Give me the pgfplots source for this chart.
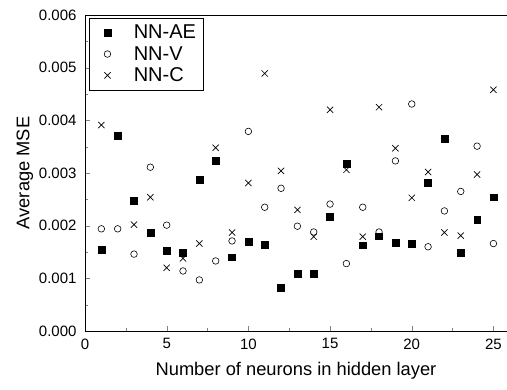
\documentclass[border=0pt]{standalone}
\usepackage{pgfplots}
\pgfplotsset{compat=1.18}
\usepackage{fontspec}
\setmainfont{Liberation Sans}
\newcommand{\lf}{\fontsize{20}{22}\selectfont}
\begin{document}
\begin{tikzpicture}
\begin{axis}[
  scale only axis, width=422pt, height=316pt,
  xmin=0, xmax=25.83, ymin=0, ymax=0.006,
  xtick={0,5,10,15,20,25}, ytick={0,0.001,0.002,0.003,0.004,0.005,0.006},
  minor x tick num=1, minor y tick num=1,
  xtick pos=bottom, ytick pos=left,
  tick align=inside,
  major tick length=5pt, minor tick length=3pt,
  scaled y ticks=false,
  yticklabel style={/pgf/number format/fixed,/pgf/number format/fixed zerofill,/pgf/number format/precision=3, xshift=-5pt},
  xticklabel style={yshift=-4pt},
  /pgf/number format/assume math mode=true,
  ticklabel style={font=\fontsize{15}{18}\selectfont},
  xlabel={Number of neurons in hidden layer},
  ylabel={Average MSE},
  label style={font=\fontsize{18.3}{21}\selectfont},
  xlabel style={yshift=-6pt},
  ylabel style={yshift=-1pt},
  legend image code/.code={\path (0pt,0pt) (36pt,0pt); \draw[#1] plot coordinates {(13pt,0pt)};},
  legend style={at={(0.009,0.991)}, anchor=north west, font=\lf,
    draw=black, line width=0.6pt, row sep=2pt, column sep=1pt, inner xsep=5pt, inner ysep=5pt},
  legend cell align=left,
  axis line style={line width=0.7pt},
]
\addplot[only marks, mark=square*, mark size=3.4pt, black] coordinates {
(1,0.00155)(2,0.00371)(3,0.00247)(4,0.00187)(5,0.00152)(6,0.00149)(7,0.00287)(8,0.00323)(9,0.00140)(10,0.00169)(11,0.00164)(12,0.00082)(13,0.00109)(14,0.00109)(15,0.00217)(16,0.00318)(17,0.00163)(18,0.00180)(19,0.00167)(20,0.00166)(21,0.00281)(22,0.00365)(23,0.00149)(24,0.00211)(25,0.00254)
};
\addlegendentry{NN-AE}
\addplot[only marks, mark=o, mark size=3.3pt, black, line width=0.6pt] coordinates {
(1,0.00194)(2,0.00194)(3,0.00146)(4,0.00311)(5,0.00201)(6,0.00114)(7,0.00097)(8,0.00133)(9,0.00171)(10,0.00379)(11,0.00235)(12,0.00271)(13,0.00199)(14,0.00188)(15,0.00241)(16,0.00128)(17,0.00235)(18,0.00188)(19,0.00323)(20,0.00431)(21,0.00160)(22,0.00228)(23,0.00265)(24,0.00351)(25,0.00166)
};
\addlegendentry{NN-V}
\addplot[only marks, mark=x, mark size=4.4pt, black, line width=0.7pt] coordinates {
(1,0.00391)(2,0.00372)(3,0.00202)(4,0.00254)(5,0.00120)(6,0.00138)(7,0.00166)(8,0.00348)(9,0.00187)(10,0.00281)(11,0.00489)(12,0.00304)(13,0.00230)(14,0.00179)(15,0.00420)(16,0.00306)(17,0.00179)(18,0.00425)(19,0.00347)(20,0.00253)(21,0.00302)(22,0.00187)(23,0.00181)(24,0.00297)(25,0.00458)
};
\addlegendentry{NN-C}
\end{axis}
\pgfresetboundingbox
\path (-85pt,-58pt) rectangle (422pt,331pt);
\end{tikzpicture}
\end{document}
